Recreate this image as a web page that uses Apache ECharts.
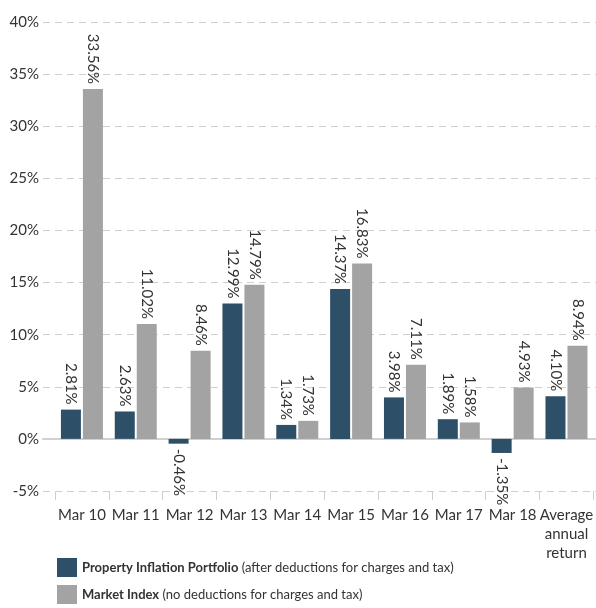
<!DOCTYPE html>
<html>
<head>
<meta charset="utf-8">
<script src="https://cdn.jsdelivr.net/npm/echarts@6/dist/echarts.min.js"></script>
<style>
html,body{margin:0;padding:0;background:#fff;}
#chart{width:596px;height:608px;}
</style>
</head>
<body>
<div id="chart"></div>
<script>
var categories = ['Mar 10','Mar 11','Mar 12','Mar 13','Mar 14','Mar 15','Mar 16','Mar 17','Mar 18','Average\nannual\nreturn'];
var portfolioValues = [2.81, 2.63, -0.46, 12.99, 1.34, 14.37, 3.98, 1.89, -1.35, 4.10];
var marketValues = [33.56, 11.02, 8.46, 14.79, 1.73, 16.83, 7.11, 1.58, 4.93, 8.94];
var seriesNames = ['Property Inflation Portfolio', 'Market Index'];
var seriesNotes = ['(after deductions for charges and tax)', '(no deductions for charges and tax)'];

var FONT = 'Lato';
var TEXT = '#333';

function buildData(arr){
  return arr.map(function(v){
    if (v < 0) {
      return {value: v, label: {position: 'bottom', align: 'left'}};
    }
    return v;
  });
}

var labelCfg = {
  show: true,
  position: 'top',
  rotate: -90,
  align: 'right',
  verticalAlign: 'middle',
  distance: 5,
  fontFamily: FONT,
  fontSize: 15,
  color: TEXT,
  formatter: function(p){ return Number(p.value).toFixed(2) + '%'; }
};

function legendFor(i, top){
  return {
    orient: 'horizontal',
    left: 57,
    top: top,
    padding: 0,
    itemWidth: 20,
    itemHeight: 19,
    icon: 'rect',
    data: [seriesNames[i]],
    formatter: function(name){
      return '{b|' + name + '} {n|' + seriesNotes[i] + '}';
    },
    textStyle: {
      fontFamily: FONT,
      fontSize: 13,
      color: TEXT,
      rich: {
        b: {fontFamily: FONT, fontSize: 13, fontWeight: 'bold', color: TEXT},
        n: {fontFamily: FONT, fontSize: 13, color: TEXT}
      }
    }
  };
}

var chart = echarts.init(document.getElementById('chart'), null, {renderer: 'canvas'});
chart.setOption({
  animation: false,
  textStyle: {fontFamily: FONT},
  grid: [
    {left: 55, right: -1, top: 22, bottom: 117, containLabel: false},
    {left: 43, right: 0, top: 22, bottom: 117, containLabel: false}
  ],
  legend: [legendFor(0, 558), legendFor(1, 585)],
  xAxis: [
    {
      type: 'category',
      gridIndex: 0,
      data: categories,
      position: 'bottom',
      axisLine: {show: false, onZero: false},
      axisTick: {show: true, length: 9, lineStyle: {color: '#cfcfcf', width: 1}},
      axisLabel: {fontFamily: FONT, fontSize: 15, color: TEXT, margin: 15, lineHeight: 19, interval: 0}
    },
    {
      type: 'value',
      gridIndex: 1,
      min: 0, max: 1,
      axisLine: {show: true, onZero: true, lineStyle: {color: '#d0d0d0', width: 2}},
      axisTick: {show: false},
      axisLabel: {show: false},
      splitLine: {show: false}
    }
  ],
  yAxis: [
    {
      type: 'value',
      gridIndex: 0,
      min: -5, max: 40, interval: 5,
      axisLine: {show: false},
      axisTick: {show: false},
      axisLabel: {show: false},
      splitLine: {show: false}
    },
    {
      type: 'value',
      gridIndex: 1,
      min: -5, max: 40, interval: 5,
      axisLine: {show: false},
      axisTick: {show: false},
      axisLabel: {fontFamily: FONT, fontSize: 15, color: TEXT, margin: 4, formatter: '{value}%'},
      splitLine: {show: true, lineStyle: {color: '#cfcfcf', width: 1, type: [7, 5]}}
    }
  ],
  series: [
    {
      name: seriesNames[0],
      type: 'bar',
      xAxisIndex: 0, yAxisIndex: 0,
      barWidth: 20,
      barGap: '10%',
      itemStyle: {color: '#2e4f68'},
      label: labelCfg,
      data: buildData(portfolioValues),
      z: 3
    },
    {
      name: seriesNames[1],
      type: 'bar',
      xAxisIndex: 0, yAxisIndex: 0,
      barWidth: 20,
      barGap: '10%',
      itemStyle: {color: '#a3a3a3'},
      label: labelCfg,
      data: buildData(marketValues),
      z: 3
    }
  ]
});
</script>
</body>
</html>
